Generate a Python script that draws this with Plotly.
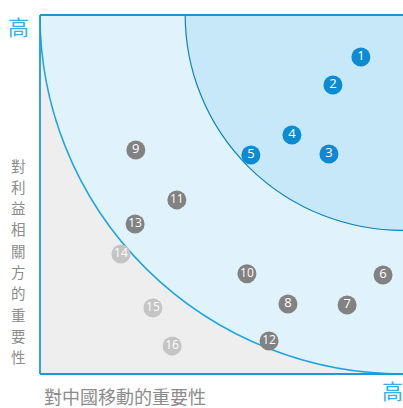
import plotly.graph_objects as go

labels = ["1", "2", "3", "4", "5", "6", "7", "8", "9", "10", "11", "12", "13", "14", "15", "16"]
x_vals = [88.4, 80.7, 79.6, 69.4, 58.1, 94.5, 84.6, 68.3, 26.4, 57.0, 37.7, 63.1, 26.2, 22.3, 31.1, 36.4]
y_vals = [88.3, 80.5, 61.3, 66.6, 61.0, 27.6, 19.2, 19.5, 62.4, 27.9, 48.5, 9.2, 41.8, 33.4, 18.4, 7.8]
groups = ["high"] * 5 + ["mid"] * 8 + ["low"] * 3

y_title_text = "對利益相關方的重要性"
x_title_text = "對中國移動的重要性"
high_label = "高"

color_map = {"high": "#0b8bd3", "mid": "#828282", "low": "#c4c4c4"}
colors = [color_map[g] for g in groups]
text_sizes = [13 if len(l) == 1 else 12 for l in labels]

fig = go.Figure()

fig.add_trace(go.Scatter(
    x=x_vals, y=y_vals, mode="markers+text",
    text=labels, textposition="middle center",
    marker=dict(size=19, color=colors, line=dict(width=0)),
    textfont=dict(color="white", size=text_sizes, family="Open Sans"),
    hoverinfo="skip", showlegend=False, cliponaxis=False,
))

shapes = [
    dict(type="circle", xref="x", yref="y", x0=0, x1=200, y0=0, y1=200,
         fillcolor="#e0f2fc", line=dict(color="#19a6e6", width=1.5), layer="below"),
    dict(type="circle", xref="x", yref="y", x0=40, x1=160, y0=40, y1=160,
         fillcolor="#c6e8f8", line=dict(color="#0c82c4", width=1.2), layer="below"),
    dict(type="line", xref="paper", yref="paper", x0=0, x1=1, y0=1, y1=1,
         line=dict(color="#1c96d3", width=2.2)),
    dict(type="line", xref="paper", yref="paper", x0=0, x1=0, y0=0, y1=1,
         line=dict(color="#1c9ad6", width=1.8)),
    dict(type="line", xref="paper", yref="paper", x0=0, x1=1, y0=0, y1=0,
         line=dict(color="#1c9ad6", width=1.8)),
]

cjk = "Noto Sans CJK TC"
annotations = [
    dict(text=high_label, xref="paper", yref="paper", x=-0.058, y=0.969, showarrow=False,
         xanchor="center", yanchor="middle", font=dict(family=cjk, size=21, color="#36aee9")),
    dict(text=high_label, xref="paper", yref="paper", x=0.972, y=-0.045, showarrow=False,
         xanchor="center", yanchor="middle", font=dict(family=cjk, size=21, color="#36aee9")),
    dict(text=x_title_text, xref="paper", yref="paper", x=0.233, y=-0.061, showarrow=False,
         xanchor="center", yanchor="middle", font=dict(family=cjk, size=18, color="#8c8c8c")),
]
# vertical y-axis title, one character per row
plot_top_px, plot_h_px = 15, 359
first_px, step_px = 165, 21.3
for i, ch in enumerate(y_title_text):
    py = first_px + i * step_px
    annotations.append(dict(
        text=ch, xref="paper", yref="paper", x=-0.058,
        y=1 - (py - plot_top_px) / plot_h_px, showarrow=False,
        xanchor="center", yanchor="middle", borderpad=0,
        font=dict(family=cjk, size=14.5, color="#8c8c8c")))

fig.update_layout(
    width=403, height=408,
    margin=dict(l=40, r=0, t=15, b=34),
    paper_bgcolor="white", plot_bgcolor="#eeeeee",
    xaxis=dict(range=[0, 100], showgrid=False, zeroline=False, showticklabels=False, ticks="", fixedrange=True),
    yaxis=dict(range=[0, 100], showgrid=False, zeroline=False, showticklabels=False, ticks="", fixedrange=True),
    shapes=shapes, annotations=annotations,
)

fig.write_html("out.html")
